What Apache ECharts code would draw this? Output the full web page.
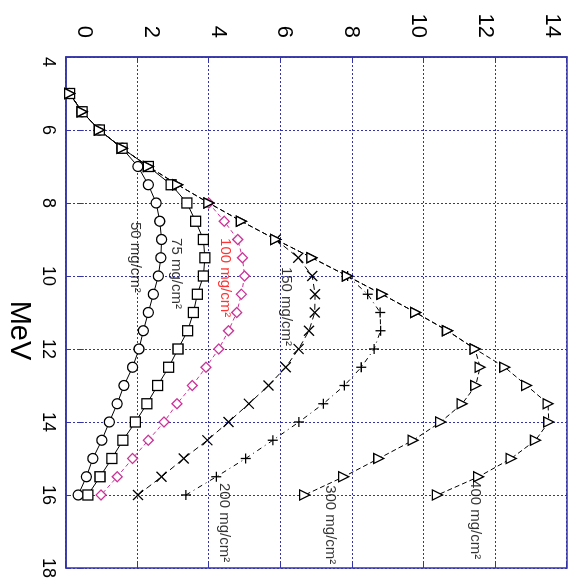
<!DOCTYPE html>
<html>
<head>
<meta charset="utf-8">
<script src="https://cdn.jsdelivr.net/npm/echarts@6/dist/echarts.min.js"></script>
<style>
  html, body { margin: 0; padding: 0; background: #fff; overflow: hidden; }
  #wrap { position: relative; width: 575px; height: 587px; overflow: hidden; }
  #chart { position: absolute; left: 0; top: 0; width: 587px; height: 575px;
           transform-origin: 0 0; transform: translate(575px, 0) rotate(90deg); }
</style>
</head>
<body>
<div id="wrap"><div id="chart"></div></div>
<script>
// ---- data ----
const mev = [5, 5.5, 6, 6.5, 7, 7.5, 8, 8.5, 9, 9.5, 10, 10.5, 11, 11.5, 12, 12.5, 13, 13.5, 14, 14.5, 15, 15.5, 16];
const s50  = [0.10, 0.45, 0.93, 1.57, 2.01, 2.30, 2.52, 2.62, 2.67, 2.65, 2.58, 2.44, 2.30, 2.16, 2.04, 1.86, 1.62, 1.43, 1.21, 1.00, 0.75, 0.57, 0.34];
const s75  = [0.10, 0.45, 0.93, 1.57, 2.30, 2.94, 3.38, 3.62, 3.84, 3.88, 3.84, 3.67, 3.56, 3.40, 3.13, 2.87, 2.56, 2.26, 1.94, 1.59, 1.28, 0.95, 0.61];
const s100 = [null, null, null, null, null, null, 3.99, 4.42, 4.80, 4.93, 4.99, 4.90, 4.77, 4.54, 4.27, 3.91, 3.53, 3.10, 2.74, 2.30, 1.86, 1.43, 0.98];
const s150 = [null, null, null, null, null, null, null, null, 5.86, 6.49, 6.88, 6.96, 6.95, 6.79, 6.50, 6.14, 5.66, 5.11, 4.54, 3.95, 3.29, 2.67, 2.01];
const s200 = [null, null, null, null, null, null, null, null, null, null, 7.87, 8.43, 8.78, 8.79, 8.61, 8.25, 7.78, 7.19, 6.51, 5.78, 5.02, 4.20, 3.35];
const s300 = [0.10, 0.45, 0.93, 1.57, 2.30, 3.12, 3.99, 4.90, 5.86, 6.87, 7.86, 8.83, 9.77, 10.66, 11.43, 11.57, 11.45, 11.07, 10.47, 9.70, 8.74, 7.76, 6.67];
const s400 = [0.10, 0.45, 0.93, 1.57, 2.30, 3.12, 3.99, 4.90, 5.86, 6.87, 7.86, 8.83, 9.77, 10.66, 11.43, 12.26, 12.87, 13.47, 13.49, 13.12, 12.44, 11.53, 10.38];
const valueTicks = [0, 2, 4, 6, 8, 10, 12, 14];
const labelTexts = ['50 mg/cm²', '75 mg/cm²', '100 mg/cm²', '150 mg/cm²', '200 mg/cm²', '300 mg/cm²', '400 mg/cm²'];
const labelMev   = [8.52, 8.96, 8.96, 9.75, 15.67, 15.73, 15.59];
const labelVal   = [1.92, 3.07, 4.44, 6.14, 4.41, 7.37, 11.42];

// ---- styles ----
const BLUE = '#3434a8';
const FONT = 'Liberation Sans';
const crossPath = 'path://M0,0L10,10M10,0L0,10';
const plusPath = 'path://M5,0L5,10M0,5L10,5';

function pairs(vals) {
  const out = [];
  for (let i = 0; i < mev.length; i++) if (vals[i] !== null) out.push([mev[i], vals[i]]);
  return out;
}

function lineSeries(name, vals, symbol, size, color, lineType, fill) {
  return {
    name, type: 'line', data: pairs(vals), symbol, symbolSize: size,
    lineStyle: { color: color, width: 1, type: lineType },
    itemStyle: { color: fill, borderColor: color, borderWidth: 1.3 },
    z: 3
  };
}

const chart = echarts.init(document.getElementById('chart'), null, { renderer: 'canvas' });
const option = {
  animation: false,
  backgroundColor: '#fff',
  grid: { left: 57, top: 8, width: 511, height: 511, show: true, borderColor: BLUE, borderWidth: 1.5, backgroundColor: 'transparent' },
  xAxis: [{
    type: 'value', min: 4, max: 18, interval: 2, position: 'bottom',
    axisLine: { show: true, lineStyle: { color: BLUE, width: 1.5 } },
    axisTick: { show: true, inside: true, length: 5, lineStyle: { color: BLUE } },
    splitLine: { show: true, lineStyle: { color: BLUE, type: [2, 2], width: 1 } },
    axisLabel: { fontFamily: FONT, fontSize: 18, color: '#000', margin: 9, alignMinLabel: 'left' },
    name: 'MeV', nameLocation: 'middle', nameGap: 32,
    nameTextStyle: { fontFamily: FONT, fontSize: 29, color: '#000', padding: [0, 0, 0, 36] }
  }, {
    type: 'value', min: 4, max: 18, interval: 2, position: 'top',
    axisLine: { show: false }, axisLabel: { show: false }, splitLine: { show: false },
    axisTick: { show: true, inside: true, length: 5, lineStyle: { color: BLUE } }
  }],
  yAxis: [{
    type: 'value', min: 0, max: 14, interval: 2, position: 'left',
    axisLine: { show: true, lineStyle: { color: BLUE, width: 1.5 } },
    axisTick: { show: true, inside: true, length: 5, lineStyle: { color: BLUE } },
    splitLine: { show: true, lineStyle: { color: BLUE, type: [2, 2], width: 1 } },
    axisLabel: { show: false }
  }, {
    type: 'value', min: -0.53, max: 14.44, position: 'left',
    axisLine: { show: false }, axisTick: { show: false }, splitLine: { show: false },
    axisLabel: { customValues: valueTicks, fontFamily: FONT, fontSize: 22, color: '#000', margin: 19 }
  }, {
    type: 'value', min: 0, max: 14, interval: 2, position: 'right',
    axisLine: { show: false }, axisLabel: { show: false }, splitLine: { show: false },
    axisTick: { show: true, inside: true, length: 5, lineStyle: { color: BLUE } }
  }],
  series: [
    lineSeries('50', s50, 'circle', 10, '#000', 'solid', '#fff'),
    lineSeries('100', s100, 'diamond', 10, '#cc3399', [4, 3], '#fff'),
    lineSeries('150', s150, crossPath, 10, '#000', [6, 4], 'none'),
    lineSeries('200', s200, plusPath, 10, '#000', [5, 4, 1, 4], 'none'),
    lineSeries('75', s75, 'rect', 10, '#000', 'solid', '#fff'),
    lineSeries('400', s400, 'triangle', 10, '#000', [5, 3], '#fff'),
    lineSeries('300', s300, 'triangle', 10, '#000', [5, 3], '#fff'),
    {
      type: 'scatter', symbolSize: 0, z: 5, silent: true,
      data: labelTexts.map((t, i) => ({
        value: [labelMev[i], labelVal[i]],
        label: {
          show: true, formatter: t, position: 'inside', align: 'left', verticalAlign: 'middle',
          fontFamily: FONT, fontSize: 15, color: i === 2 ? '#ff0000' : '#000'
        }
      }))
    }
  ]
};
chart.setOption(option);
</script>
</body>
</html>
